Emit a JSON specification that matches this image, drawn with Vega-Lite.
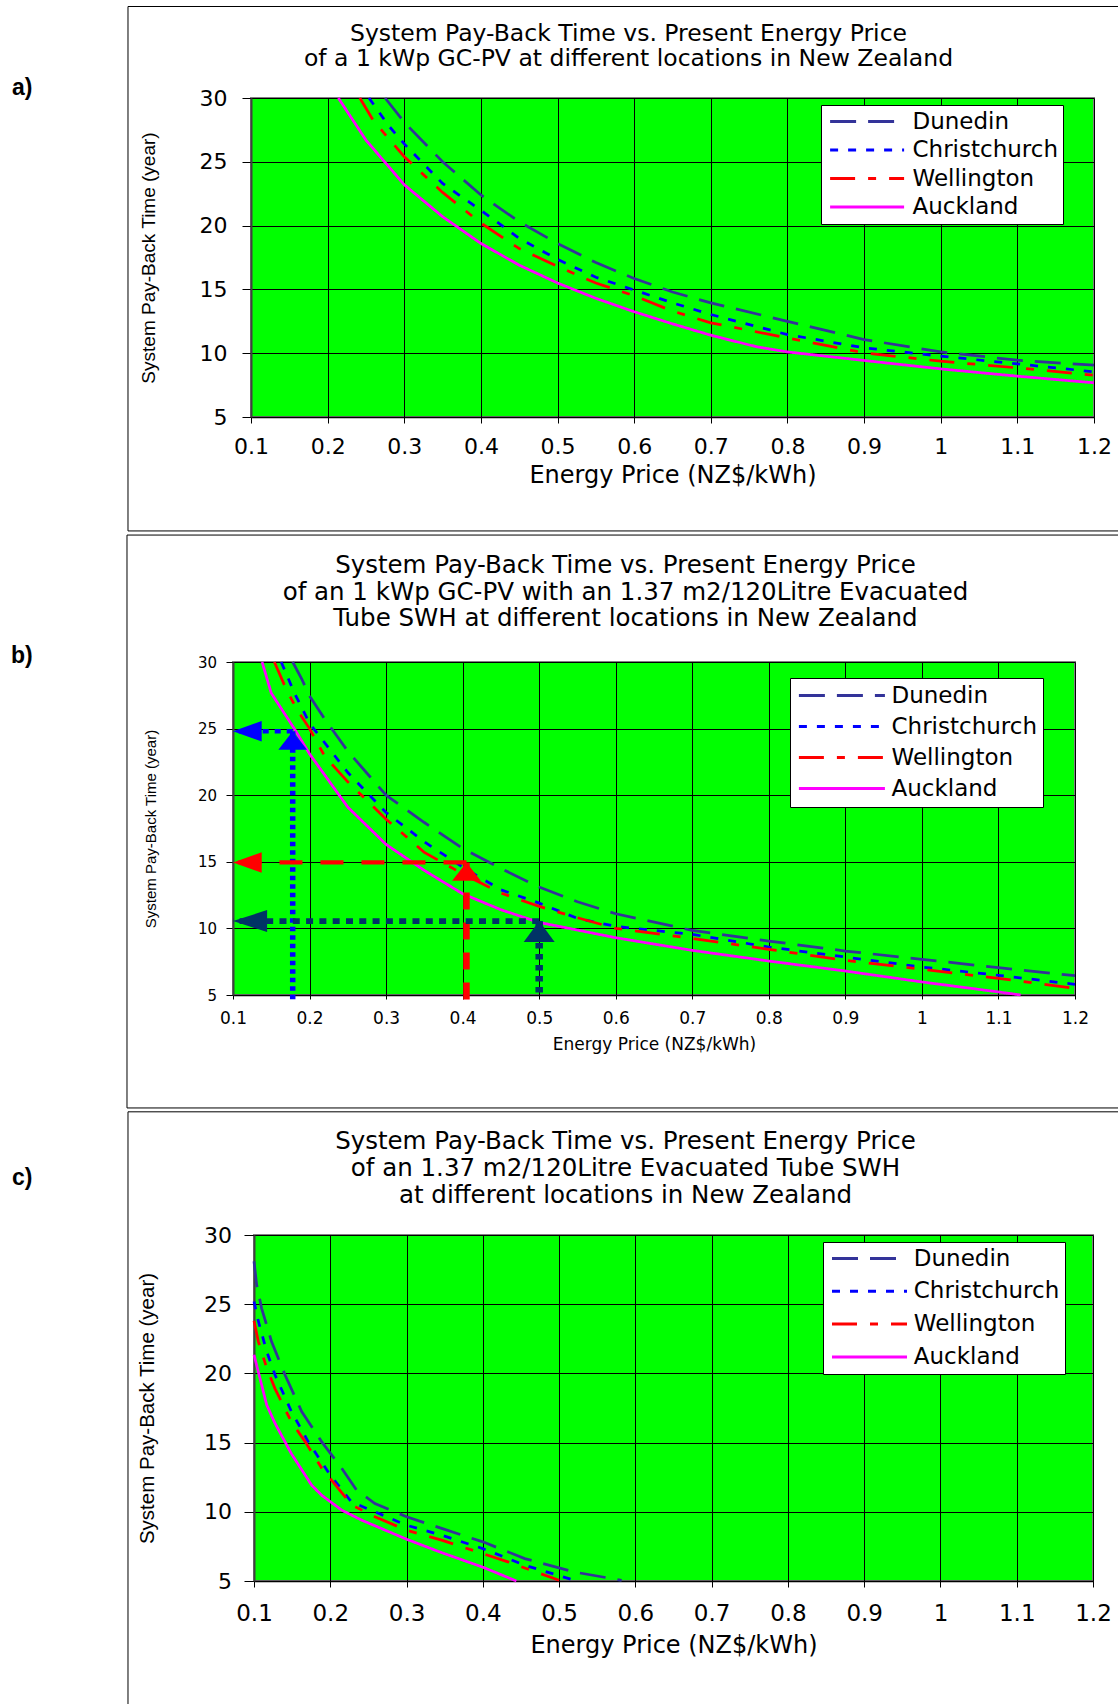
{
  "$schema": "https://vega.github.io/schema/vega-lite/v6.json",
  "background": "white",
  "padding": {"left": 9, "top": 5, "right": 0, "bottom": 0},
  "autosize": {"type": "pad"},
  "spacing": 0,
  "resolve": {"scale": {"color": "independent", "strokeDash": "independent"}, "legend": {"color": "independent", "strokeDash": "independent"}},
  "config": {
    "view": {"fill": "#00FF00", "stroke": "#808080", "strokeWidth": 2},
    "axis": {"grid": true, "gridColor": "#000000", "gridWidth": 1, "gridOpacity": 1, "domainColor": "#000000", "domainWidth": 1.5, "tickColor": "#000000", "labelColor": "#000000", "titleColor": "#000000", "labelFont": "DejaVu Sans", "titleFont": "DejaVu Sans", "titleFontWeight": "normal", "labelFlush": false, "labelOverlap": false, "format": "~g"},
    "axisY": {"titleFont": "Liberation Sans", "domainColor": "#404040", "domainWidth": 2},
    "title": {"font": "DejaVu Sans", "fontWeight": "normal", "color": "#000000", "anchor": "middle", "frame": "group", "baseline": "bottom"},
    "legend": {"title": null, "fillColor": "#FFFFFF", "strokeColor": "#000000", "labelFont": "DejaVu Sans", "labelColor": "#000000", "labelLimit": 400, "symbolStrokeWidth": 3, "symbolType": "M-1,0H9"}
  },
  "datasets": {
    "payA": [
      {"city": "Dunedin", "price": 0.275, "years": 30}, {"city": "Dunedin", "price": 0.3, "years": 28.1}, {"city": "Dunedin", "price": 0.35, "years": 25.0}, {"city": "Dunedin", "price": 0.4, "years": 22.4}, {"city": "Dunedin", "price": 0.45, "years": 20.3}, {"city": "Dunedin", "price": 0.5, "years": 18.6}, {"city": "Dunedin", "price": 0.55, "years": 17.1}, {"city": "Dunedin", "price": 0.6, "years": 15.85}, {"city": "Dunedin", "price": 0.65, "years": 14.8}, {"city": "Dunedin", "price": 0.7, "years": 13.94}, {"city": "Dunedin", "price": 0.8, "years": 12.5}, {"city": "Dunedin", "price": 0.9, "years": 11.07}, {"city": "Dunedin", "price": 1.0, "years": 10.1}, {"city": "Dunedin", "price": 1.1, "years": 9.45}, {"city": "Dunedin", "price": 1.2, "years": 9.06},
      {"city": "Christchurch", "price": 0.254, "years": 30}, {"city": "Christchurch", "price": 0.28, "years": 27.8}, {"city": "Christchurch", "price": 0.3, "years": 26.4}, {"city": "Christchurch", "price": 0.35, "years": 23.3}, {"city": "Christchurch", "price": 0.4, "years": 21.2}, {"city": "Christchurch", "price": 0.45, "years": 19.0}, {"city": "Christchurch", "price": 0.5, "years": 17.35}, {"city": "Christchurch", "price": 0.55, "years": 15.95}, {"city": "Christchurch", "price": 0.6, "years": 14.95}, {"city": "Christchurch", "price": 0.65, "years": 13.95}, {"city": "Christchurch", "price": 0.7, "years": 13.03}, {"city": "Christchurch", "price": 0.8, "years": 11.46}, {"city": "Christchurch", "price": 0.9, "years": 10.42}, {"city": "Christchurch", "price": 1.0, "years": 9.77}, {"city": "Christchurch", "price": 1.1, "years": 9.16}, {"city": "Christchurch", "price": 1.2, "years": 8.54},
      {"city": "Wellington", "price": 0.242, "years": 30}, {"city": "Wellington", "price": 0.26, "years": 28.2}, {"city": "Wellington", "price": 0.3, "years": 25.4}, {"city": "Wellington", "price": 0.35, "years": 22.6}, {"city": "Wellington", "price": 0.4, "years": 20.2}, {"city": "Wellington", "price": 0.45, "years": 18.2}, {"city": "Wellington", "price": 0.5, "years": 16.8}, {"city": "Wellington", "price": 0.55, "years": 15.5}, {"city": "Wellington", "price": 0.6, "years": 14.5}, {"city": "Wellington", "price": 0.65, "years": 13.3}, {"city": "Wellington", "price": 0.7, "years": 12.38}, {"city": "Wellington", "price": 0.8, "years": 11.2}, {"city": "Wellington", "price": 0.9, "years": 10.03}, {"city": "Wellington", "price": 1.0, "years": 9.37}, {"city": "Wellington", "price": 1.1, "years": 8.85}, {"city": "Wellington", "price": 1.2, "years": 8.28},
      {"city": "Auckland", "price": 0.214, "years": 30}, {"city": "Auckland", "price": 0.25, "years": 26.7}, {"city": "Auckland", "price": 0.3, "years": 23.2}, {"city": "Auckland", "price": 0.35, "years": 20.7}, {"city": "Auckland", "price": 0.4, "years": 18.6}, {"city": "Auckland", "price": 0.45, "years": 16.9}, {"city": "Auckland", "price": 0.5, "years": 15.5}, {"city": "Auckland", "price": 0.55, "years": 14.3}, {"city": "Auckland", "price": 0.6, "years": 13.25}, {"city": "Auckland", "price": 0.65, "years": 12.3}, {"city": "Auckland", "price": 0.7, "years": 11.41}, {"city": "Auckland", "price": 0.76, "years": 10.5}, {"city": "Auckland", "price": 0.8, "years": 10.1}, {"city": "Auckland", "price": 0.9, "years": 9.43}, {"city": "Auckland", "price": 1.0, "years": 8.77}, {"city": "Auckland", "price": 1.1, "years": 8.2}, {"city": "Auckland", "price": 1.2, "years": 7.68}
    ],
    "payB": [
      {"city": "Dunedin", "price": 0.178, "years": 30}, {"city": "Dunedin", "price": 0.19, "years": 28.7}, {"city": "Dunedin", "price": 0.2, "years": 27.45}, {"city": "Dunedin", "price": 0.22, "years": 25.7}, {"city": "Dunedin", "price": 0.25, "years": 23.3}, {"city": "Dunedin", "price": 0.3, "years": 20.0}, {"city": "Dunedin", "price": 0.35, "years": 17.95}, {"city": "Dunedin", "price": 0.4, "years": 16.0}, {"city": "Dunedin", "price": 0.45, "years": 14.5}, {"city": "Dunedin", "price": 0.5, "years": 13.1}, {"city": "Dunedin", "price": 0.55, "years": 12.0}, {"city": "Dunedin", "price": 0.6, "years": 11.1}, {"city": "Dunedin", "price": 0.7, "years": 9.85}, {"city": "Dunedin", "price": 0.8, "years": 9.05}, {"city": "Dunedin", "price": 0.9, "years": 8.3}, {"city": "Dunedin", "price": 1.0, "years": 7.68}, {"city": "Dunedin", "price": 1.1, "years": 7.05}, {"city": "Dunedin", "price": 1.2, "years": 6.45},
      {"city": "Christchurch", "price": 0.163, "years": 30}, {"city": "Christchurch", "price": 0.18, "years": 27.7}, {"city": "Christchurch", "price": 0.2, "years": 25.4}, {"city": "Christchurch", "price": 0.25, "years": 21.7}, {"city": "Christchurch", "price": 0.3, "years": 18.7}, {"city": "Christchurch", "price": 0.35, "years": 16.5}, {"city": "Christchurch", "price": 0.4, "years": 14.6}, {"city": "Christchurch", "price": 0.45, "years": 12.9}, {"city": "Christchurch", "price": 0.5, "years": 11.9}, {"city": "Christchurch", "price": 0.55, "years": 10.75}, {"city": "Christchurch", "price": 0.6, "years": 10.15}, {"city": "Christchurch", "price": 0.7, "years": 9.55}, {"city": "Christchurch", "price": 0.8, "years": 8.6}, {"city": "Christchurch", "price": 0.9, "years": 7.85}, {"city": "Christchurch", "price": 1.0, "years": 7.1}, {"city": "Christchurch", "price": 1.1, "years": 6.48}, {"city": "Christchurch", "price": 1.2, "years": 5.8},
      {"city": "Wellington", "price": 0.154, "years": 30}, {"city": "Wellington", "price": 0.17, "years": 27.9}, {"city": "Wellington", "price": 0.185, "years": 26.3}, {"city": "Wellington", "price": 0.2, "years": 25.0}, {"city": "Wellington", "price": 0.22, "years": 22.9}, {"city": "Wellington", "price": 0.25, "years": 21.0}, {"city": "Wellington", "price": 0.3, "years": 18.2}, {"city": "Wellington", "price": 0.35, "years": 15.7}, {"city": "Wellington", "price": 0.4, "years": 14.1}, {"city": "Wellington", "price": 0.45, "years": 12.65}, {"city": "Wellington", "price": 0.5, "years": 11.65}, {"city": "Wellington", "price": 0.55, "years": 10.8}, {"city": "Wellington", "price": 0.6, "years": 10.0}, {"city": "Wellington", "price": 0.7, "years": 9.25}, {"city": "Wellington", "price": 0.8, "years": 8.43}, {"city": "Wellington", "price": 0.9, "years": 7.6}, {"city": "Wellington", "price": 1.0, "years": 6.93}, {"city": "Wellington", "price": 1.1, "years": 6.25}, {"city": "Wellington", "price": 1.2, "years": 5.5},
      {"city": "Auckland", "price": 0.138, "years": 30}, {"city": "Auckland", "price": 0.15, "years": 27.66}, {"city": "Auckland", "price": 0.18, "years": 25.0}, {"city": "Auckland", "price": 0.2, "years": 23.1}, {"city": "Auckland", "price": 0.25, "years": 19.1}, {"city": "Auckland", "price": 0.3, "years": 16.3}, {"city": "Auckland", "price": 0.35, "years": 14.35}, {"city": "Auckland", "price": 0.4, "years": 12.6}, {"city": "Auckland", "price": 0.45, "years": 11.4}, {"city": "Auckland", "price": 0.5, "years": 10.45}, {"city": "Auckland", "price": 0.6, "years": 9.3}, {"city": "Auckland", "price": 0.7, "years": 8.35}, {"city": "Auckland", "price": 0.8, "years": 7.55}, {"city": "Auckland", "price": 0.9, "years": 6.8}, {"city": "Auckland", "price": 1.0, "years": 5.98}, {"city": "Auckland", "price": 1.1, "years": 5.23}, {"city": "Auckland", "price": 1.129, "years": 5.0}
    ],
    "payC": [
      {"city": "Dunedin", "price": 0.1, "years": 28.1}, {"city": "Dunedin", "price": 0.1035, "years": 26.4}, {"city": "Dunedin", "price": 0.11, "years": 24.7}, {"city": "Dunedin", "price": 0.123, "years": 22.3}, {"city": "Dunedin", "price": 0.1406, "years": 19.9}, {"city": "Dunedin", "price": 0.1625, "years": 17.25}, {"city": "Dunedin", "price": 0.1886, "years": 15.07}, {"city": "Dunedin", "price": 0.215, "years": 13.14}, {"city": "Dunedin", "price": 0.2345, "years": 11.57}, {"city": "Dunedin", "price": 0.2585, "years": 10.6}, {"city": "Dunedin", "price": 0.3, "years": 9.64}, {"city": "Dunedin", "price": 0.346, "years": 8.8}, {"city": "Dunedin", "price": 0.4, "years": 7.83}, {"city": "Dunedin", "price": 0.455, "years": 6.62}, {"city": "Dunedin", "price": 0.52, "years": 5.65}, {"city": "Dunedin", "price": 0.582, "years": 5.05},
      {"city": "Christchurch", "price": 0.1, "years": 25.2}, {"city": "Christchurch", "price": 0.1057, "years": 23.77}, {"city": "Christchurch", "price": 0.1166, "years": 21.6}, {"city": "Christchurch", "price": 0.1275, "years": 19.9}, {"city": "Christchurch", "price": 0.149, "years": 17.25}, {"city": "Christchurch", "price": 0.171, "years": 15.07}, {"city": "Christchurch", "price": 0.2, "years": 12.65}, {"city": "Christchurch", "price": 0.228, "years": 10.7}, {"city": "Christchurch", "price": 0.2585, "years": 10.0}, {"city": "Christchurch", "price": 0.3, "years": 9.03}, {"city": "Christchurch", "price": 0.346, "years": 8.31}, {"city": "Christchurch", "price": 0.4, "years": 7.34}, {"city": "Christchurch", "price": 0.455, "years": 6.14}, {"city": "Christchurch", "price": 0.52, "years": 5.05},
      {"city": "Wellington", "price": 0.1, "years": 23.8}, {"city": "Wellington", "price": 0.1057, "years": 22.3}, {"city": "Wellington", "price": 0.1166, "years": 20.4}, {"city": "Wellington", "price": 0.1275, "years": 18.9}, {"city": "Wellington", "price": 0.149, "years": 16.5}, {"city": "Wellington", "price": 0.167, "years": 15.07}, {"city": "Wellington", "price": 0.189, "years": 13.14}, {"city": "Wellington", "price": 0.2, "years": 12.4}, {"city": "Wellington", "price": 0.228, "years": 10.5}, {"city": "Wellington", "price": 0.2585, "years": 9.64}, {"city": "Wellington", "price": 0.3, "years": 8.67}, {"city": "Wellington", "price": 0.346, "years": 7.95}, {"city": "Wellington", "price": 0.4, "years": 6.98}, {"city": "Wellington", "price": 0.433, "years": 6.38}, {"city": "Wellington", "price": 0.5, "years": 5.05},
      {"city": "Auckland", "price": 0.1, "years": 21.35}, {"city": "Auckland", "price": 0.1166, "years": 17.73}, {"city": "Auckland", "price": 0.1275, "years": 16.4}, {"city": "Auckland", "price": 0.149, "years": 14.2}, {"city": "Auckland", "price": 0.1755, "years": 11.93}, {"city": "Auckland", "price": 0.1886, "years": 11.2}, {"city": "Auckland", "price": 0.215, "years": 10.12}, {"city": "Auckland", "price": 0.241, "years": 9.4}, {"city": "Auckland", "price": 0.3, "years": 8.02}, {"city": "Auckland", "price": 0.346, "years": 7.05}, {"city": "Auckland", "price": 0.4, "years": 6.0}, {"city": "Auckland", "price": 0.444, "years": 5.0}
    ],
    "blueGuide": [{"price": 0.178, "years": 24.8}],
    "redGuide": [{"price": 0.405, "years": 14.95}],
    "navyGuide": [{"price": 0.5, "years": 10.55}],
    "panelA": [{"label": "a)"}],
    "panelB": [{"label": "b)"}],
    "panelC": [{"label": "c)"}],
    "none": []
  },
  "vconcat": [
    {"spacing": 0, "hconcat": [
    {"width": 1, "height": 1, "view": {"fill": null, "stroke": null}, "data": {"name": "none"}, "mark": {"type": "point", "opacity": 0}},
    {
      "width": 843, "height": 319,
      "title": {"text": ["System Pay-Back Time vs. Present Energy Price", "of a 1 kWp GC-PV at different locations in New Zealand"], "fontSize": 23.5, "lineHeight": 25, "dx": -44, "offset": -64},
      "layer": [
        {
          "data": {"name": "payA"},
          "mark": {"type": "line", "strokeWidth": 2.75},
          "encoding": {
            "x": {"field": "price", "type": "quantitative", "scale": {"domain": [0.1, 1.2], "nice": false, "zero": false}, "axis": {"values": [0.1, 0.2, 0.3, 0.4, 0.5, 0.6, 0.7, 0.8, 0.9, 1, 1.1, 1.2], "title": "Energy Price (NZ$/kWh)", "labelFontSize": 22, "titleFontSize": 24, "tickSize": 6, "labelPadding": 13, "titlePadding": 6}},
            "y": {"field": "years", "type": "quantitative", "scale": {"domain": [5, 30], "nice": false, "zero": false}, "axis": {"values": [5, 10, 15, 20, 25, 30], "title": "System Pay-Back Time (year)", "labelFontSize": 22, "titleFontSize": 19, "tickSize": 9, "labelPadding": 15, "titlePadding": 41}},
            "color": {"field": "city", "type": "nominal", "scale": {"domain": ["Dunedin", "Christchurch", "Wellington", "Auckland"], "range": ["#333399", "#0000FF", "#FF0000", "#FF00FF"]}, "legend": {"orient": "none", "legendX": 812, "legendY": 7, "padding": 5, "labelFontSize": 23, "labelOffset": 63.5, "rowPadding": 4.5, "symbolSize": 219}},
            "strokeDash": {"field": "city", "type": "nominal", "scale": {"domain": ["Dunedin", "Christchurch", "Wellington", "Auckland"], "range": [[26, 12], [8, 10], [25, 13, 8, 13], [1, 0]]}, "legend": {"orient": "none", "legendX": 812, "legendY": 7, "padding": 5, "labelFontSize": 23, "labelOffset": 63.5, "rowPadding": 4.5, "symbolSize": 219}}
          }
        },
        {"data": {"name": "panelA"}, "mark": {"type": "rule", "color": "#000000", "strokeWidth": 1}, "encoding": {"x": {"datum": -0.0605, "type": "quantitative"}, "x2": {"datum": 1.25}, "y": {"datum": 37.17, "type": "quantitative"}}},
        {"data": {"name": "panelA"}, "mark": {"type": "rule", "color": "#000000", "strokeWidth": 1}, "encoding": {"x": {"datum": -0.0605, "type": "quantitative"}, "x2": {"datum": 1.25}, "y": {"datum": -3.93, "type": "quantitative"}}},
        {"data": {"name": "panelA"}, "mark": {"type": "rule", "color": "#000000", "strokeWidth": 1}, "encoding": {"x": {"datum": -0.0605, "type": "quantitative"}, "y": {"datum": 37.17, "type": "quantitative"}, "y2": {"datum": -3.93}}},
        {"data": {"name": "panelA"}, "mark": {"type": "text", "align": "left", "baseline": "middle", "font": "Liberation Sans", "fontWeight": "bold", "fontSize": 23, "color": "#000000"}, "encoding": {"x": {"datum": -0.2119, "type": "quantitative"}, "y": {"datum": 30.78, "type": "quantitative"}, "text": {"field": "label", "type": "nominal"}}}
      ]
    }]},
    {"spacing": 0, "hconcat": [
    {"width": 1, "height": 1, "view": {"fill": null, "stroke": null}, "data": {"name": "none"}, "mark": {"type": "point", "opacity": 0}},
    {
      "width": 842, "height": 333,
      "title": {"text": ["System Pay-Back Time vs. Present Energy Price", "of an 1 kWp GC-PV with an 1.37 m2/120Litre Evacuated", "Tube SWH at different locations in New Zealand"], "fontSize": 24.5, "lineHeight": 26.5, "dx": -28.5, "offset": -97},
      "layer": [
        {
          "data": {"name": "payB"},
          "mark": {"type": "line", "strokeWidth": 2.75},
          "encoding": {
            "x": {"field": "price", "type": "quantitative", "scale": {"domain": [0.1, 1.2], "nice": false, "zero": false}, "axis": {"values": [0.1, 0.2, 0.3, 0.4, 0.5, 0.6, 0.7, 0.8, 0.9, 1, 1.1, 1.2], "title": "Energy Price (NZ$/kWh)", "labelFontSize": 17, "titleFontSize": 17, "tickSize": 4, "labelPadding": 11, "titlePadding": 10}},
            "y": {"field": "years", "type": "quantitative", "scale": {"domain": [5, 30], "nice": false, "zero": false}, "axis": {"values": [5, 10, 15, 20, 25, 30], "title": "System Pay-Back Time (year)", "labelFontSize": 15, "titleFontSize": 15, "tickSize": 7, "labelPadding": 9.5, "titlePadding": 39}},
            "color": {"field": "city", "type": "nominal", "scale": {"domain": ["Dunedin", "Christchurch", "Wellington", "Auckland"], "range": ["#333399", "#0000FF", "#FF0000", "#FF00FF"]}, "legend": {"orient": "none", "legendX": 781, "legendY": 16, "padding": 6, "labelFontSize": 23, "labelOffset": 72.5, "rowPadding": 7, "symbolSize": 296}},
            "strokeDash": {"field": "city", "type": "nominal", "scale": {"domain": ["Dunedin", "Christchurch", "Wellington", "Auckland"], "range": [[26, 12], [8, 10], [25, 13, 8, 13], [1, 0]]}, "legend": {"orient": "none", "legendX": 781, "legendY": 16, "padding": 6, "labelFontSize": 23, "labelOffset": 72.5, "rowPadding": 7, "symbolSize": 296}}
          }
        },
        {"data": {"name": "blueGuide"}, "mark": {"type": "rule", "color": "#0000FF", "strokeWidth": 5.5, "strokeDash": [4.5, 4]}, "encoding": {"x": {"field": "price", "type": "quantitative"}, "y": {"field": "years", "type": "quantitative"}, "y2": {"datum": 4.55}}},
        {"data": {"name": "blueGuide"}, "mark": {"type": "rule", "color": "#0000FF", "strokeWidth": 4.7, "strokeDash": [6, 6]}, "encoding": {"x": {"field": "price", "type": "quantitative"}, "x2": {"datum": 0.1}, "y": {"field": "years", "type": "quantitative"}}},
        {"data": {"name": "redGuide"}, "mark": {"type": "rule", "color": "#FF0000", "strokeWidth": 6.5, "strokeDash": [17, 13]}, "encoding": {"x": {"field": "price", "type": "quantitative"}, "y": {"field": "years", "type": "quantitative"}, "y2": {"datum": 4.55}}},
        {"data": {"name": "redGuide"}, "mark": {"type": "rule", "color": "#FF0000", "strokeWidth": 4.3, "strokeDash": [23, 18]}, "encoding": {"x": {"field": "price", "type": "quantitative"}, "x2": {"datum": 0.1}, "y": {"field": "years", "type": "quantitative"}}},
        {"data": {"name": "navyGuide"}, "mark": {"type": "rule", "color": "#003366", "strokeWidth": 7.5, "strokeDash": [5.5, 5.5]}, "encoding": {"x": {"field": "price", "type": "quantitative"}, "y": {"field": "years", "type": "quantitative"}, "y2": {"datum": 5}}},
        {"data": {"name": "navyGuide"}, "mark": {"type": "rule", "color": "#003366", "strokeWidth": 5.7, "strokeDash": [7, 6.3]}, "encoding": {"x": {"field": "price", "type": "quantitative"}, "x2": {"datum": 0.1}, "y": {"field": "years", "type": "quantitative"}}},
        {"data": {"name": "blueGuide"}, "mark": {"type": "point", "shape": "M0,0L1,1.28L-1,1.28Z", "size": 824, "filled": true, "opacity": 1, "color": "#0000FF"}, "encoding": {"x": {"field": "price", "type": "quantitative"}, "y": {"field": "years", "type": "quantitative"}}},
        {"data": {"name": "blueGuide"}, "mark": {"type": "point", "shape": "M0,0L2,-0.72L2,0.72Z", "size": 824, "filled": true, "opacity": 1, "color": "#0000FF"}, "encoding": {"x": {"datum": 0.1, "type": "quantitative"}, "y": {"field": "years", "type": "quantitative"}}},
        {"data": {"name": "redGuide"}, "mark": {"type": "point", "shape": "M0,0L1,1.28L-1,1.28Z", "size": 824, "filled": true, "opacity": 1, "color": "#FF0000"}, "encoding": {"x": {"field": "price", "type": "quantitative"}, "y": {"field": "years", "type": "quantitative"}}},
        {"data": {"name": "redGuide"}, "mark": {"type": "point", "shape": "M0,0L2,-0.72L2,0.72Z", "size": 824, "filled": true, "opacity": 1, "color": "#FF0000"}, "encoding": {"x": {"datum": 0.1, "type": "quantitative"}, "y": {"field": "years", "type": "quantitative"}}},
        {"data": {"name": "navyGuide"}, "mark": {"type": "point", "shape": "M0,0L1,1.35L-1,1.35Z", "size": 961, "filled": true, "opacity": 1, "color": "#003366"}, "encoding": {"x": {"field": "price", "type": "quantitative"}, "y": {"field": "years", "type": "quantitative"}}},
        {"data": {"name": "navyGuide"}, "mark": {"type": "point", "shape": "M0,0L2.2,-0.71L2.2,0.71Z", "size": 961, "filled": true, "opacity": 1, "color": "#003366"}, "encoding": {"x": {"datum": 0.1, "type": "quantitative"}, "y": {"field": "years", "type": "quantitative"}}},
        {"data": {"name": "panelB"}, "mark": {"type": "rule", "color": "#000000", "strokeWidth": 1}, "encoding": {"x": {"datum": -0.0385, "type": "quantitative"}, "x2": {"datum": 1.2732}, "y": {"datum": 39.53, "type": "quantitative"}}},
        {"data": {"name": "panelB"}, "mark": {"type": "rule", "color": "#000000", "strokeWidth": 1}, "encoding": {"x": {"datum": -0.0385, "type": "quantitative"}, "x2": {"datum": 1.2732}, "y": {"datum": -3.48, "type": "quantitative"}}},
        {"data": {"name": "panelB"}, "mark": {"type": "rule", "color": "#000000", "strokeWidth": 1}, "encoding": {"x": {"datum": -0.0385, "type": "quantitative"}, "y": {"datum": 39.53, "type": "quantitative"}, "y2": {"datum": -3.48}}},
        {"data": {"name": "panelB"}, "mark": {"type": "text", "align": "left", "baseline": "middle", "font": "Liberation Sans", "fontWeight": "bold", "fontSize": 23, "color": "#000000"}, "encoding": {"x": {"datum": -0.19, "type": "quantitative"}, "y": {"datum": 30.45, "type": "quantitative"}, "text": {"field": "label", "type": "nominal"}}}
      ]
    }]},
    {"spacing": 0, "hconcat": [
    {"width": 1, "height": 1, "view": {"fill": null, "stroke": null}, "data": {"name": "none"}, "mark": {"type": "point", "opacity": 0}},
    {
      "width": 839, "height": 346,
      "title": {"text": ["System Pay-Back Time vs. Present Energy Price", "of an 1.37 m2/120Litre Evacuated Tube SWH", "at different locations in New Zealand"], "fontSize": 24.5, "lineHeight": 27, "dx": -48, "offset": -97},
      "layer": [
        {
          "data": {"name": "payC"},
          "mark": {"type": "line", "strokeWidth": 2.75},
          "encoding": {
            "x": {"field": "price", "type": "quantitative", "scale": {"domain": [0.1, 1.2], "nice": false, "zero": false}, "axis": {"values": [0.1, 0.2, 0.3, 0.4, 0.5, 0.6, 0.7, 0.8, 0.9, 1, 1.1, 1.2], "title": "Energy Price (NZ$/kWh)", "labelFontSize": 23, "titleFontSize": 24, "tickSize": 6, "labelPadding": 15, "titlePadding": 8}},
            "y": {"field": "years", "type": "quantitative", "scale": {"domain": [5, 30], "nice": false, "zero": false}, "axis": {"values": [5, 10, 15, 20, 25, 30], "title": "System Pay-Back Time (year)", "labelFontSize": 22, "titleFontSize": 20.5, "tickSize": 10, "labelPadding": 12.5, "titlePadding": 46}},
            "color": {"field": "city", "type": "nominal", "scale": {"domain": ["Dunedin", "Christchurch", "Wellington", "Auckland"], "range": ["#333399", "#0000FF", "#FF0000", "#FF00FF"]}, "legend": {"orient": "none", "legendX": 814, "legendY": 7, "padding": 5, "labelFontSize": 23, "labelOffset": 62.8, "rowPadding": 8.8, "symbolSize": 225}},
            "strokeDash": {"field": "city", "type": "nominal", "scale": {"domain": ["Dunedin", "Christchurch", "Wellington", "Auckland"], "range": [[26, 12], [8, 10], [25, 13, 8, 13], [1, 0]]}, "legend": {"orient": "none", "legendX": 814, "legendY": 7, "padding": 5, "labelFontSize": 23, "labelOffset": 62.8, "rowPadding": 8.8, "symbolSize": 225}}
          }
        },
        {"data": {"name": "panelC"}, "mark": {"type": "rule", "color": "#000000", "strokeWidth": 1}, "encoding": {"x": {"datum": -0.0652, "type": "quantitative"}, "x2": {"datum": 1.2511}, "y": {"datum": 38.9, "type": "quantitative"}}},
        {"data": {"name": "panelC"}, "mark": {"type": "rule", "color": "#000000", "strokeWidth": 1}, "encoding": {"x": {"datum": -0.0652, "type": "quantitative"}, "y": {"datum": 38.9, "type": "quantitative"}, "y2": {"datum": -4.44}}},
        {"data": {"name": "panelC"}, "mark": {"type": "text", "align": "left", "baseline": "middle", "font": "Liberation Sans", "fontWeight": "bold", "fontSize": 23, "color": "#000000"}, "encoding": {"x": {"datum": -0.2173, "type": "quantitative"}, "y": {"datum": 34.12, "type": "quantitative"}, "text": {"field": "label", "type": "nominal"}}}
      ]
    }]}
  ]
}
